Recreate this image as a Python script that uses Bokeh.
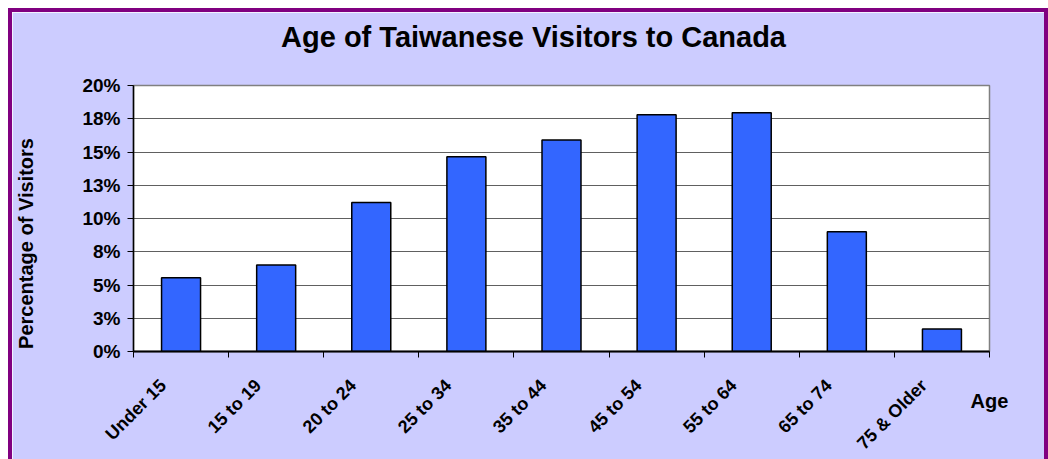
import numpy as np
from math import pi
from bokeh.plotting import figure
from bokeh.models import Range1d, FixedTicker, LinearAxis, ColumnDataSource
from bokeh.embed import file_html
from bokeh.resources import INLINE

categories = ["Under 15", "15 to 19", "20 to 24", "25 to 34", "35 to 44",
              "45 to 54", "55 to 64", "65 to 74", "75 & Older"]
values = [5.55, 6.5, 11.2, 14.65, 15.9, 17.8, 17.95, 9.0, 1.7]
y_ticks = [0, 2.5, 5, 7.5, 10, 12.5, 15, 17.5, 20]
y_tick_labels = ["0%", "3%", "5%", "8%", "10%", "13%", "15%", "18%", "20%"]

TITLE = "Age of Taiwanese Visitors to Canada"
Y_TITLE = "Percentage of Visitors"
X_TITLE = "Age"

FONT = "Liberation Sans"
LABEL_SHIFT = 0.19  # rotated labels end slightly left of the category centre

n = len(categories)
x = np.arange(n) + 0.5
src = ColumnDataSource(dict(x=x, top=values, cat=categories))

p = figure(width=1040, height=451, output_backend="svg", toolbar_location=None,
           title=None,
           x_range=Range1d(0, n), y_range=Range1d(0, 20),
           min_border_left=121, min_border_right=63, min_border_top=73,
           min_border_bottom=112,
           background_fill_color="white", border_fill_color="#CCCCFF",
           outline_line_color="#808080", outline_line_width=1.5)
p.styles = {"margin-left": "8px", "margin-top": "8px",
            "border-left": "4px solid #800080",
            "border-top": "4px solid #800080",
            "border-right": "4px solid #800080"}

xa = p.below[0]
ya = p.left[0]

p.vbar(x="x", top="top", width=0.41, bottom=0, source=src,
       fill_color="#3366FF", line_color="black", line_width=1.5)


def text_axis(**kw):
    base = dict(major_tick_out=0, major_tick_in=0, minor_tick_out=0,
                major_tick_line_color=None, minor_tick_line_color=None,
                axis_line_color=None, major_label_text_font=FONT,
                major_label_text_font_style="bold",
                major_label_text_color="black")
    base.update(kw)
    return LinearAxis(**base)


# ---- chart title, centred over the whole chart
title_at = 4.206
p.add_layout(text_axis(ticker=FixedTicker(ticks=[title_at]),
                       major_label_overrides={title_at: TITLE},
                       major_label_standoff=33,
                       major_label_text_font_size="29px"), "above")

# ---- main x axis: line, boundary ticks and the "Age" title at its end
xa.ticker = FixedTicker(ticks=[float(n)], minor_ticks=list(range(n + 1)))
xa.major_label_overrides = {float(n): X_TITLE}
xa.major_tick_line_color = None
xa.major_tick_out = 0
xa.major_tick_in = 0
xa.minor_tick_line_color = "black"
xa.minor_tick_out = 6
xa.minor_tick_in = 0
xa.major_label_standoff = 32
xa.major_label_text_font = FONT
xa.major_label_text_font_size = "20px"
xa.major_label_text_font_style = "bold"
xa.major_label_text_color = "black"
xa.axis_line_color = "black"
xa.axis_line_width = 2

# ---- category labels (rotated)
label_pos = [float(v) - LABEL_SHIFT for v in x]
p.add_layout(text_axis(ticker=FixedTicker(ticks=label_pos),
                       major_label_overrides={v: c for v, c in zip(label_pos, categories)},
                       major_label_orientation=pi / 4,
                       major_label_standoff=-32,
                       major_label_text_font_size="18px"), "below")

# ---- y axis
ya.ticker = FixedTicker(ticks=y_ticks)
ya.major_label_overrides = {float(t): l for t, l in zip(y_ticks, y_tick_labels)}
ya.minor_tick_line_color = None
ya.major_tick_out = 6
ya.major_tick_in = 0
ya.major_tick_line_color = "black"
ya.major_label_standoff = 7
ya.major_label_text_font = FONT
ya.major_label_text_font_size = "19px"
ya.major_label_text_font_style = "bold"
ya.major_label_text_color = "black"
ya.axis_line_color = "black"
ya.axis_line_width = 1.5

# ---- y title
y_title_at = 8.12
p.add_layout(text_axis(ticker=FixedTicker(ticks=[y_title_at]),
                       major_label_overrides={y_title_at: Y_TITLE},
                       major_label_orientation="parallel",
                       major_label_standoff=42,
                       major_label_text_font_size="20px"), "left")

p.xgrid.visible = False
p.ygrid.ticker = FixedTicker(ticks=y_ticks)
p.ygrid.grid_line_color = "#606060"
p.ygrid.grid_line_width = 1

open("out.html", "w").write(file_html(p, INLINE))
